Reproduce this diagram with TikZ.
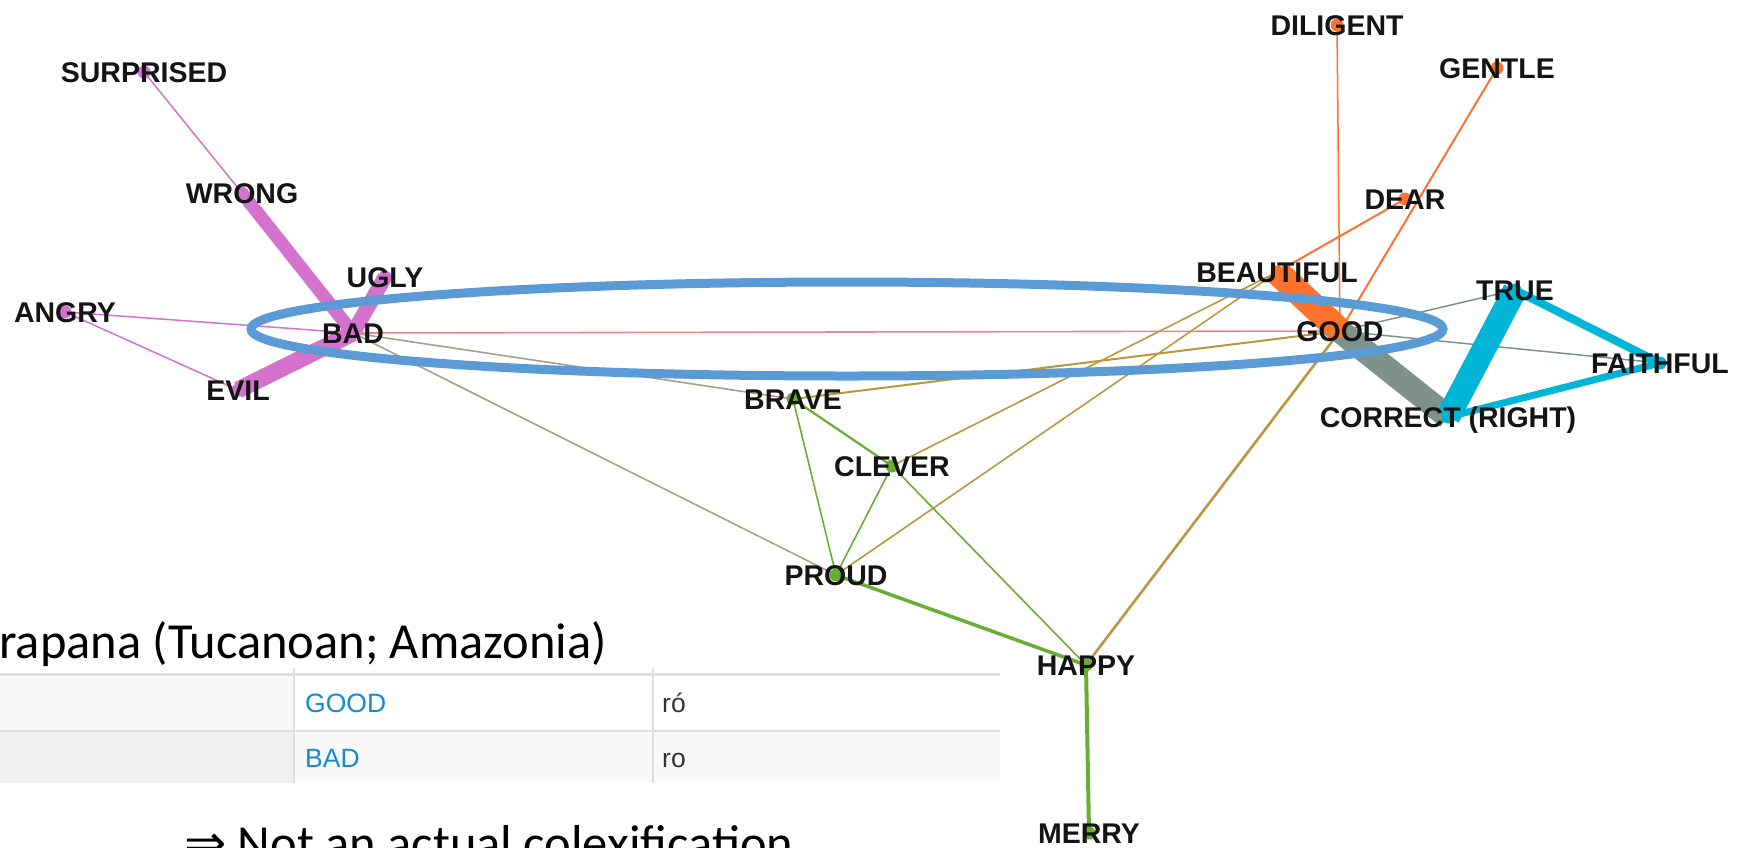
\documentclass[tikz,border=0pt]{standalone}
\usepackage{fontspec}
\setmainfont{Liberation Sans}
\newfontfamily\lblfamily{Liberation Sans}
\newfontfamily\slidefont{Carlito}
\newfontfamily\arrowfont{DejaVu Sans}

\definecolor{pinkc}{RGB}{213,114,206}
\definecolor{redc}{RGB}{236,132,148}
\definecolor{taupec}{RGB}{168,158,142}
\definecolor{orangec}{RGB}{255,114,44}
\definecolor{goldc}{RGB}{186,150,62}
\definecolor{greenc}{RGB}{104,174,50}
\definecolor{slatec}{RGB}{126,146,138}
\definecolor{cyanc}{RGB}{0,181,216}
\definecolor{ringblue}{RGB}{91,155,213}
\definecolor{linkblue}{RGB}{22,138,208}
\definecolor{cellA}{RGB}{248,248,248}
\definecolor{cellB}{RGB}{240,240,240}
\definecolor{cellC}{RGB}{249,249,249}
\definecolor{rulec}{RGB}{222,222,222}

\pgfdeclarelayer{edges}
\pgfdeclarelayer{dots}
\pgfdeclarelayer{top}
\pgfsetlayers{edges,dots,main,top}

\begin{document}
\begin{tikzpicture}[x=1pt,y=-1pt,
  lbl/.style={font=\lblfamily\bfseries\fontsize{28.5}{30}\selectfont,
    text height=20.4pt, text depth=0pt, inner sep=0pt, text=black!92},
  link/.style={line cap=butt},
  tbl/.style={font=\lblfamily\fontsize{26.5}{28}\selectfont, inner sep=0pt, anchor=base west},
  slide/.style={font=\slidefont\fontsize{50.5}{56}\selectfont, inner sep=0pt, anchor=base west}]

\useasboundingbox (0,0) rectangle (1737,847);

% ---------- concept labels (centred on the network nodes)
\node[lbl] (surprised) at (144,72)  {SURPRISED};
\node[lbl] (wrong)     at (242,193) {WRONG};
\node[lbl] (ugly)      at (385,277) {UGLY};
\node[lbl] (angry)     at (65,312)  {ANGRY};
\node[lbl] (bad)       at (353,333) {BAD};
\node[lbl] (evil)      at (238,390) {EVIL};
\node[lbl] (diligent)  at (1337,25) {DILIGENT};
\node[lbl] (gentle)    at (1497,68) {GENTLE};
\node[lbl] (dear)      at (1405,199) {DEAR};
\node[lbl] (beautiful) at (1277,272) {BEAUTIFUL};
\node[lbl] (good)      at (1340,331) {GOOD};
\node[lbl] (true)      at (1515,290) {TRUE};
\node[lbl] (faithful)  at (1660,363) {FAITHFUL};
\node[lbl] (correct)   at (1448,417) {CORRECT (RIGHT)};
\node[lbl] (brave)     at (793,399) {BRAVE};
\node[lbl] (clever)    at (892,466) {CLEVER};
\node[lbl] (proud)     at (836,575) {PROUD};
\node[lbl] (happy)     at (1086,665) {HAPPY};
\node[lbl] (merry)     at (1089,833) {MERRY};

% ---------- weighted links
\begin{pgfonlayer}{edges}
  % negative cluster
  \draw[link, pinkc, line width=1.5pt] (surprised.center) -- (wrong.center);
  \draw[link, pinkc, line width=13pt]  (wrong.center) -- (bad.center);
  \draw[link, pinkc, line width=15pt]  (ugly.center) -- (bad.center);
  \draw[link, pinkc, line width=17pt]  (evil.center) -- (bad.center);
  \draw[link, pinkc, line width=1.5pt] (angry.center) -- (bad.center);
  \draw[link, pinkc, line width=1.5pt] (angry.center) -- (evil.center);
  % bridges from BAD
  \draw[link, redc, line width=1.6pt]   (bad.center) -- (good.center);
  \draw[link, taupec, line width=1.6pt] (bad.center) -- (brave.center);
  \draw[link, taupec, line width=1.6pt] (bad.center) -- (proud.center);
  % positive cluster
  \draw[link, orangec, line width=1.5pt] (diligent.center) -- (good.center);
  \draw[link, orangec, line width=2pt]   (gentle.center) -- (good.center);
  \draw[link, orangec, line width=2pt]   (dear.center) -- (beautiful.center);
  \draw[link, orangec, line width=26pt]  (beautiful.center) -- (good.center);
  \draw[link, slatec, line width=24pt]   (good.center) -- (correct.center);
  \draw[link, slatec, line width=1.5pt]  (good.center) -- (true.center);
  \draw[link, slatec, line width=1.5pt]  (good.center) -- (faithful.center);
  \draw[link, cyanc, line width=24pt]    (true.center) -- (correct.center);
  \draw[link, cyanc, line width=8pt]     (true.center) -- (faithful.center);
  \draw[link, cyanc, line width=7pt]     (correct.center) -- (faithful.center);
  % links into the middle cluster
  \draw[link, goldc, line width=2pt]   (good.center) -- (brave.center);
  \draw[link, goldc, line width=1.6pt] (beautiful.center) -- (clever.center);
  \draw[link, goldc, line width=1.6pt] (beautiful.center) -- (proud.center);
  \draw[link, goldc, line width=2.6pt] (good.center) -- (happy.center);
  \draw[link, greenc, line width=2.2pt] (brave.center) -- (clever.center);
  \draw[link, greenc, line width=1.6pt] (brave.center) -- (proud.center);
  \draw[link, greenc, line width=1.6pt] (clever.center) -- (proud.center);
  \draw[link, greenc, line width=1.6pt] (clever.center) -- (happy.center);
  \draw[link, greenc, line width=3.5pt] (proud.center) -- (happy.center);
  \draw[link, greenc, line width=4pt]   (happy.center) -- (merry.center);
\end{pgfonlayer}

% ---------- node dots
\begin{pgfonlayer}{dots}
  \foreach \n in {surprised,wrong,ugly,angry,bad,evil}
    \fill[pinkc] (\n.center) circle (6.5pt);
  \foreach \n in {diligent,gentle,dear,beautiful,good}
    \fill[orangec] (\n.center) circle (6.5pt);
  \foreach \n in {true,faithful,correct}
    \fill[cyanc] (\n.center) circle (6.5pt);
  \foreach \n in {brave,clever,proud,happy,merry}
    \fill[greenc] (\n.center) circle (6.5pt);
\end{pgfonlayer}

% ---------- language heading and lexicon table
\node[slide] (title) at (-1,658) {rapana (Tucanoan; Amazonia)};

\fill[cellA] (0,676) rectangle (294,731);
\fill[white] (294,676) rectangle (1000,731);
\fill[cellB] (0,731) rectangle (294,783);
\fill[cellC] (294,731) rectangle (1000,783);
\draw[rulec, line width=3pt] (0,674) -- (1000,674);
\draw[rulec, line width=2pt] (0,731) -- (1000,731);
\draw[rulec, line width=2pt] (294,668) -- (294,783);
\draw[rulec, line width=2pt] (653,668) -- (653,783);

\node[tbl, text=linkblue] (tgood) at (305,712.5) {GOOD};
\node[tbl, text=linkblue] (tbad)  at (305,767.5) {BAD};
\node[tbl, text=black!80] (tgoodform) at (662,712.5) {ró};
\node[tbl, text=black!80] (tbadform)  at (662,767.5) {ro};

\node[slide] (note) at (184,860) {{\arrowfont ⇒} Not an actual colexification};

% ---------- highlighting ring around GOOD and BAD
\begin{pgfonlayer}{top}
  \draw[ringblue, line width=9pt] (847,329) ellipse [x radius=596pt, y radius=47pt];
\end{pgfonlayer}
\end{tikzpicture}
\end{document}
